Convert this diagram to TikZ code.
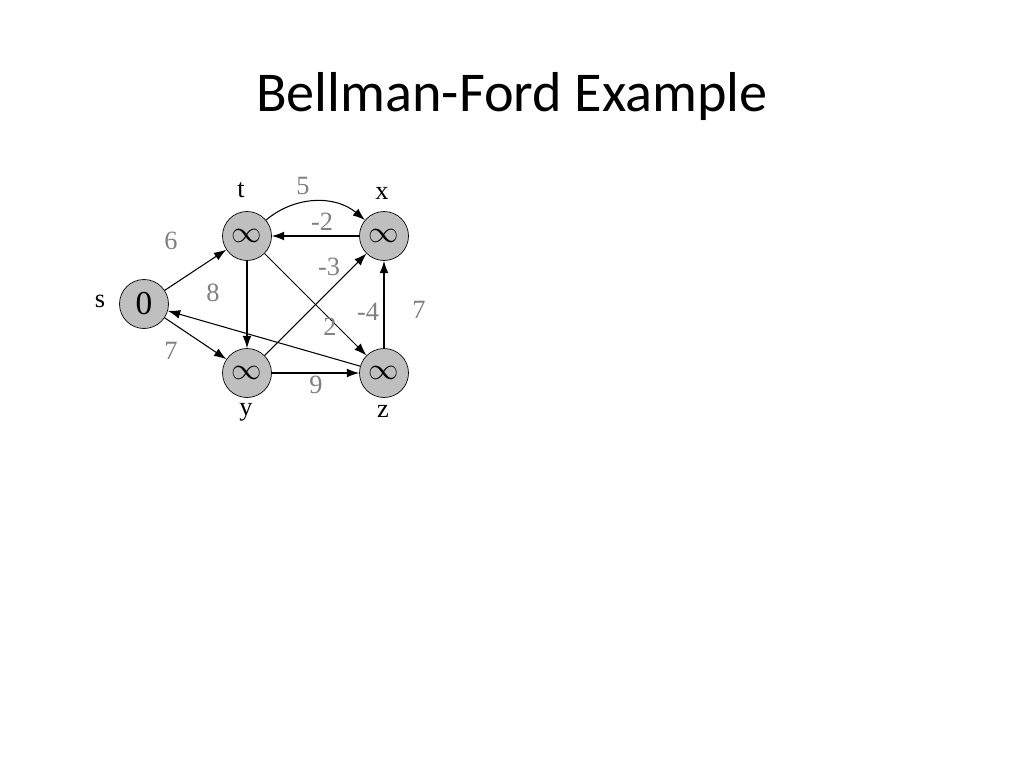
\documentclass[tikz,border=0pt]{standalone}
\usepackage{fontspec}
\setmainfont{Liberation Serif}
\newfontfamily\titlefont{Carlito}
\usetikzlibrary{arrows.meta}
\begin{document}
\begin{tikzpicture}[x=0.02cm,y=-0.02cm,
  vtx/.style={circle,draw,fill=gray!50,minimum size=0.98cm,inner sep=0pt,font=\fontsize{19}{19}\selectfont},
  lbl/.style={font=\fontsize{15}{15}\selectfont},
  wt/.style={font=\fontsize{15}{15}\selectfont,text=gray},
  edge/.style={-{Latex[length=7pt,width=5pt]},line width=0.6pt}]
\useasboundingbox (0,0) rectangle (1024,768);
\node[font=\titlefont\fontsize{32}{38}\selectfont] (title) at (512,97) {Bellman-Ford Example};
\node[vtx] (s) at (144,304) {0};
\node[vtx] (t) at (247,236) {$\infty$};
\node[vtx] (x) at (384,236) {$\infty$};
\node[vtx] (y) at (247,373) {$\infty$};
\node[vtx] (z) at (384,373) {$\infty$};
\node[lbl] (ls) at (100,301) {s};
\node[lbl] (lt) at (241,190) {t};
\node[lbl] (lx) at (382,193) {x};
\node[lbl] (ly) at (246,412) {y};
\node[lbl] (lz) at (383,411) {z};
\draw[edge] (s) -- (t);
\draw[edge] (s) -- (y);
\draw[edge] (t) -- (y);
\draw[edge] (t) to[bend left=40] (x);
\draw[edge] (x) -- (t);
\draw[edge] (y) -- (x);
\draw[edge] (t) -- (z);
\draw[edge] (z) -- (s);
\draw[edge] (y) -- (z);
\draw[edge] (z) -- (x);
\node[wt] (w1) at (171,241) {6};
\node[wt] (w2) at (171,351) {7};
\node[wt] (w3) at (213,293) {8};
\node[wt] (w4) at (303,186) {5};
\node[wt] (w5) at (322,222) {-2};
\node[wt] (w6) at (329,267) {-3};
\node[wt] (w7) at (368,312) {-4};
\node[wt] (w8) at (330,327) {2};
\node[wt] (w9) at (316,385) {9};
\node[wt] (w10) at (419,310) {7};
\end{tikzpicture}
\end{document}
